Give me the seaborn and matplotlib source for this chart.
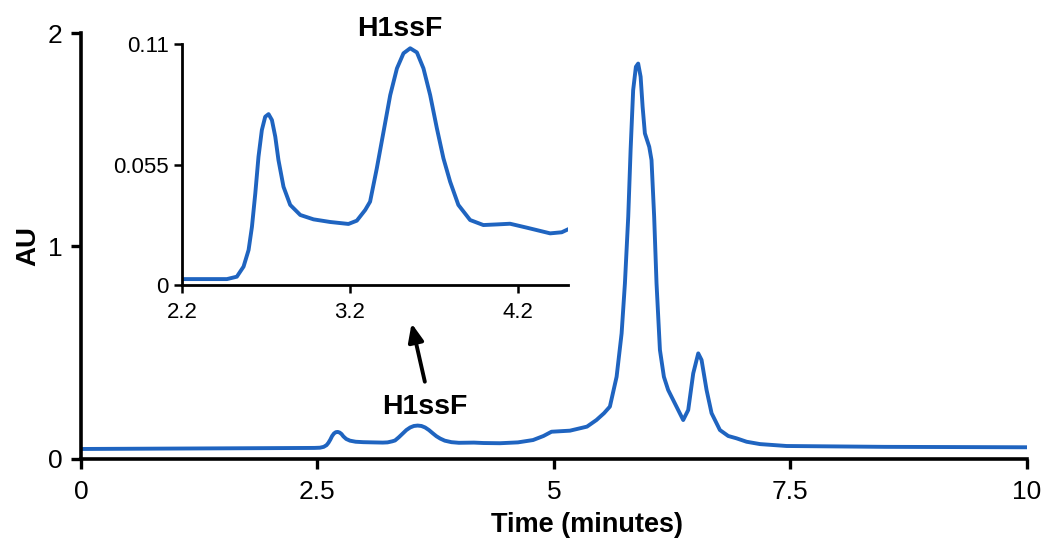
import matplotlib
matplotlib.use("Agg")
import matplotlib.pyplot as plt
import seaborn as sns
import pandas as pd

# Main chromatogram
time_min = [0.0, 1.0, 2.0, 2.468, 2.527, 2.567, 2.597, 2.617, 2.637, 2.656, 2.676, 2.696,
            2.716, 2.736, 2.756, 2.775, 2.805, 2.845, 2.905, 2.984, 3.083, 3.192, 3.242,
            3.292, 3.321, 3.361, 3.401, 3.441, 3.481, 3.520, 3.560, 3.600, 3.639, 3.679,
            3.719, 3.758, 3.798, 3.847, 3.917, 3.996, 4.155, 4.255, 4.43, 4.62, 4.78, 4.89,
            4.975, 5.17, 5.35, 5.45, 5.53, 5.592, 5.663, 5.716, 5.751, 5.786, 5.811, 5.838,
            5.867, 5.891, 5.917, 5.938, 5.962, 6.008, 6.032, 6.060, 6.085, 6.121, 6.163,
            6.208, 6.279, 6.367, 6.420, 6.473, 6.526, 6.561, 6.614, 6.667, 6.755, 6.843,
            6.931, 7.037, 7.178, 7.460, 8.5, 10.0]
au = [0.047, 0.049, 0.051, 0.052, 0.053, 0.057, 0.065, 0.076, 0.091, 0.108, 0.120, 0.126,
      0.127, 0.124, 0.117, 0.106, 0.094, 0.086, 0.081, 0.079, 0.078, 0.077, 0.078, 0.083,
      0.087, 0.102, 0.119, 0.136, 0.148, 0.155, 0.157, 0.155, 0.148, 0.136, 0.121, 0.107,
      0.096, 0.086, 0.079, 0.076, 0.077, 0.075, 0.074, 0.078, 0.089, 0.108, 0.128, 0.133,
      0.152, 0.183, 0.215, 0.246, 0.386, 0.590, 0.825, 1.138, 1.451, 1.732, 1.842, 1.857,
      1.795, 1.654, 1.529, 1.466, 1.404, 1.138, 0.825, 0.512, 0.386, 0.324, 0.261, 0.183,
      0.230, 0.402, 0.496, 0.465, 0.324, 0.215, 0.136, 0.108, 0.097, 0.081, 0.070, 0.061,
      0.057, 0.055]

# Inset (zoom on 2.2 - 4.5 min)
inset_time = [2.2, 2.468, 2.527, 2.567, 2.597, 2.617, 2.637, 2.656, 2.676, 2.696, 2.716,
              2.736, 2.756, 2.775, 2.805, 2.845, 2.905, 2.984, 3.083, 3.192, 3.242, 3.292,
              3.321, 3.361, 3.401, 3.441, 3.481, 3.520, 3.560, 3.600, 3.639, 3.679, 3.719,
              3.758, 3.798, 3.847, 3.917, 3.996, 4.080, 4.155, 4.255, 4.394, 4.463, 4.513]
inset_au = [0.0027, 0.0027, 0.0038, 0.0084, 0.016, 0.0266, 0.0419, 0.0586, 0.0708, 0.0769,
            0.0781, 0.0754, 0.0678, 0.0571, 0.0449, 0.0366, 0.032, 0.030, 0.0288, 0.0279,
            0.0294, 0.0343, 0.0381, 0.0533, 0.070, 0.0868, 0.099, 0.1059, 0.1082, 0.1063,
            0.099, 0.0868, 0.0716, 0.0579, 0.0472, 0.0366, 0.0297, 0.0274, 0.0277, 0.028,
            0.0262, 0.0236, 0.0241, 0.0259]

main_xticks = [0, 2.5, 5, 7.5, 10]
main_xticklabels = ["0", "2.5", "5", "7.5", "10"]
main_yticks = [0, 1, 2]
inset_xticks = [2.2, 3.2, 4.2]
inset_xticklabels = ["2.2", "3.2", "4.2"]
inset_yticks = [0, 0.055, 0.11]
inset_yticklabels = ["0", "0.055", "0.11"]

sns.set_theme(style="ticks")
plt.rcParams["font.family"] = ["Liberation Sans", "DejaVu Sans"]
plt.rcParams["text.color"] = "black"

LINE = "#1F64C0"

fig = plt.figure(figsize=(10.5, 5.52), dpi=100)
ax = fig.add_axes([0.077, 0.1685, 0.901, 0.7715])
df = pd.DataFrame({"t": time_min, "au": au})
sns.lineplot(data=df, x="t", y="au", ax=ax, color=LINE, linewidth=2.8)
ax.set_xlim(0, 10)
ax.set_ylim(0, 2)
ax.set_xticks(main_xticks)
ax.set_xticklabels(main_xticklabels)
ax.set_yticks(main_yticks)
ax.tick_params(axis="both", labelsize=19, width=2.4, length=7, color="black", labelcolor="black")
ax.tick_params(axis="x", pad=8)
ax.tick_params(axis="y", pad=6)
for s in ["top", "right"]:
    ax.spines[s].set_visible(False)
for s in ["left", "bottom"]:
    ax.spines[s].set_linewidth(2.6)
    ax.spines[s].set_color("black")
ax.set_xlabel("Time (minutes)", fontsize=19.5, fontweight="bold", color="black")
ax.xaxis.set_label_coords(0.535, -0.125)
ax.set_ylabel("AU", fontsize=20, fontweight="bold", labelpad=5, color="black")

ax.text(3.64, 0.244, "H1ssF", ha="center", va="center",
        fontsize=20.5, fontweight="bold", color="black")
ax.annotate("", xy=(3.496, 0.637), xytext=(3.636, 0.363),
            arrowprops=dict(arrowstyle="-|>,head_length=0.9,head_width=0.38",
                            color="black", lw=2.8, shrinkA=0, shrinkB=0))

ins = fig.add_axes([0.1733, 0.4837, 0.3676, 0.436])
dfi = pd.DataFrame({"t": inset_time, "au": inset_au})
sns.lineplot(data=dfi, x="t", y="au", ax=ins, color=LINE, linewidth=2.8)
ins.set_xlim(2.2, 4.5)
ins.set_ylim(0, 0.11)
ins.set_xticks(inset_xticks)
ins.set_xticklabels(inset_xticklabels)
ins.set_yticks(inset_yticks)
ins.set_yticklabels(inset_yticklabels)
ins.tick_params(axis="both", labelsize=16, width=1.8, length=6, color="black", labelcolor="black")
ins.tick_params(axis="x", pad=6)
for s in ["top", "right"]:
    ins.spines[s].set_visible(False)
for s in ["left", "bottom"]:
    ins.spines[s].set_linewidth(2.0)
    ins.spines[s].set_color("black")
ins.set_xlabel("")
ins.set_ylabel("")
ins.set_title("H1ssF", fontsize=20.5, fontweight="bold", pad=6, x=0.565, color="black")
ins.patch.set_alpha(0)

fig.savefig("out.png", dpi=100)
